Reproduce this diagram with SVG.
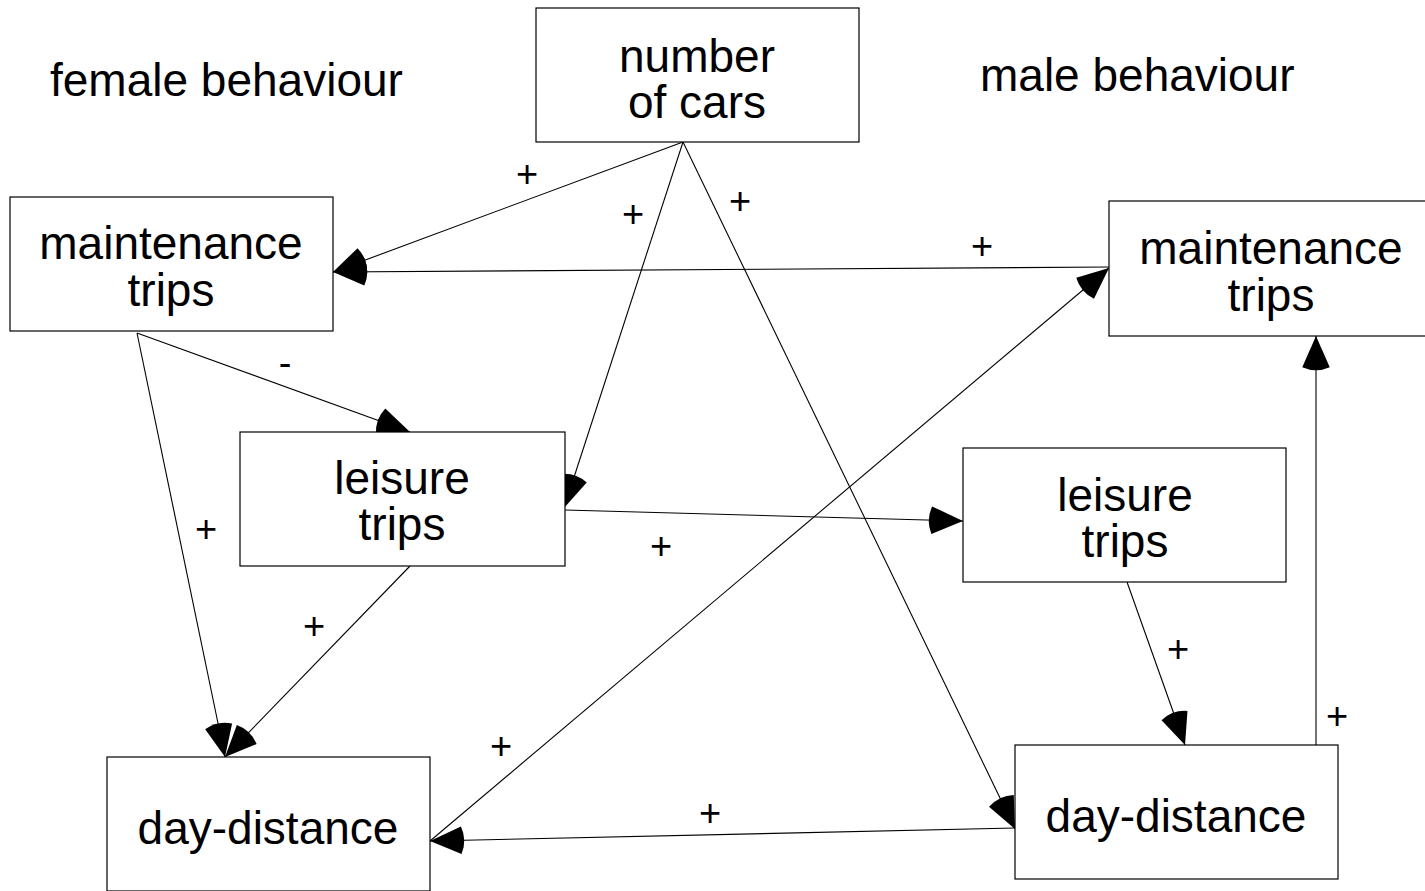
<svg xmlns="http://www.w3.org/2000/svg" width="1425" height="891" viewBox="0 0 1425 891">
<style>
.box{fill:#fff;stroke:#000;stroke-width:1.2}
.t{font-family:"Liberation Sans",Arial,sans-serif;font-size:46px;fill:#000;text-anchor:middle}
.h{font-family:"Liberation Sans",Arial,sans-serif;font-size:46px;fill:#000}
.l{font-family:"Liberation Sans",Arial,sans-serif;font-size:38px;fill:#000;text-anchor:middle}
.c{fill:none;stroke:#000;stroke-width:1.1;marker-end:url(#ah)}
</style>
<defs>
<marker id="ah" markerUnits="userSpaceOnUse" markerWidth="40" markerHeight="40" refX="0" refY="0" orient="auto" overflow="visible" viewBox="-30 -15 32 30">
<path d="M0,0 L-25,-11 A27.3,27.3 0 0,0 -25,11 Z" fill="#000"/>
</marker>
</defs>
<rect width="1425" height="891" fill="#fff"/>
<text class="h" x="50" y="96">female behaviour</text>
<text class="h" x="980" y="91">male behaviour</text>
<g id="connectors">
<path class="c" d="M683,142 L333,272"/>
<path class="c" d="M683,142 L564,508"/>
<path class="c" d="M683,142 L1015,829"/>
<path class="c" d="M137,333 L225,757"/>
<path class="c" d="M137,333 L410,432"/>
<path class="c" d="M410,566 L225,757"/>
<path class="c" d="M565,510 L963,521"/>
<path class="c" d="M1127,582 L1185,745"/>
<path class="c" d="M1316,745 L1316,336"/>
<path class="c" d="M1015,828 L430,841"/>
<path class="c" d="M430,841 L1109,268"/>
<path class="c" d="M1109,267 L333,272"/>
</g>
<g id="labels">
<text class="l" x="527" y="187">+</text>
<text class="l" x="633" y="227">+</text>
<text class="l" x="740" y="214">+</text>
<text class="l" x="982" y="259">+</text>
<text class="l" x="285" y="376">-</text>
<text class="l" x="206" y="542">+</text>
<text class="l" x="314" y="639">+</text>
<text class="l" x="661" y="559">+</text>
<text class="l" x="501" y="759">+</text>
<text class="l" x="710" y="826">+</text>
<text class="l" x="1178" y="662">+</text>
<text class="l" x="1337" y="729">+</text>
</g>
<g id="cars"><rect class="box" x="536" y="8" width="323" height="134"/><text class="t" x="697" y="72">number</text><text class="t" x="697" y="118">of cars</text></g>
<g id="f-maint"><rect class="box" x="10" y="197" width="323" height="134"/><text class="t" x="171" y="259">maintenance</text><text class="t" x="171" y="306">trips</text></g>
<g id="m-maint"><rect class="box" x="1109" y="201" width="323" height="135"/><text class="t" x="1271" y="264">maintenance</text><text class="t" x="1271" y="311">trips</text></g>
<g id="f-leisure"><rect class="box" x="240" y="432" width="325" height="134"/><text class="t" x="402" y="494">leisure</text><text class="t" x="402" y="540">trips</text></g>
<g id="m-leisure"><rect class="box" x="963" y="448" width="323" height="134"/><text class="t" x="1125" y="511">leisure</text><text class="t" x="1125" y="557">trips</text></g>
<g id="f-day"><rect class="box" x="107" y="757" width="323" height="134"/><text class="t" x="268" y="844">day-distance</text></g>
<g id="m-day"><rect class="box" x="1015" y="745" width="323" height="134"/><text class="t" x="1176" y="832">day-distance</text></g>
</svg>
